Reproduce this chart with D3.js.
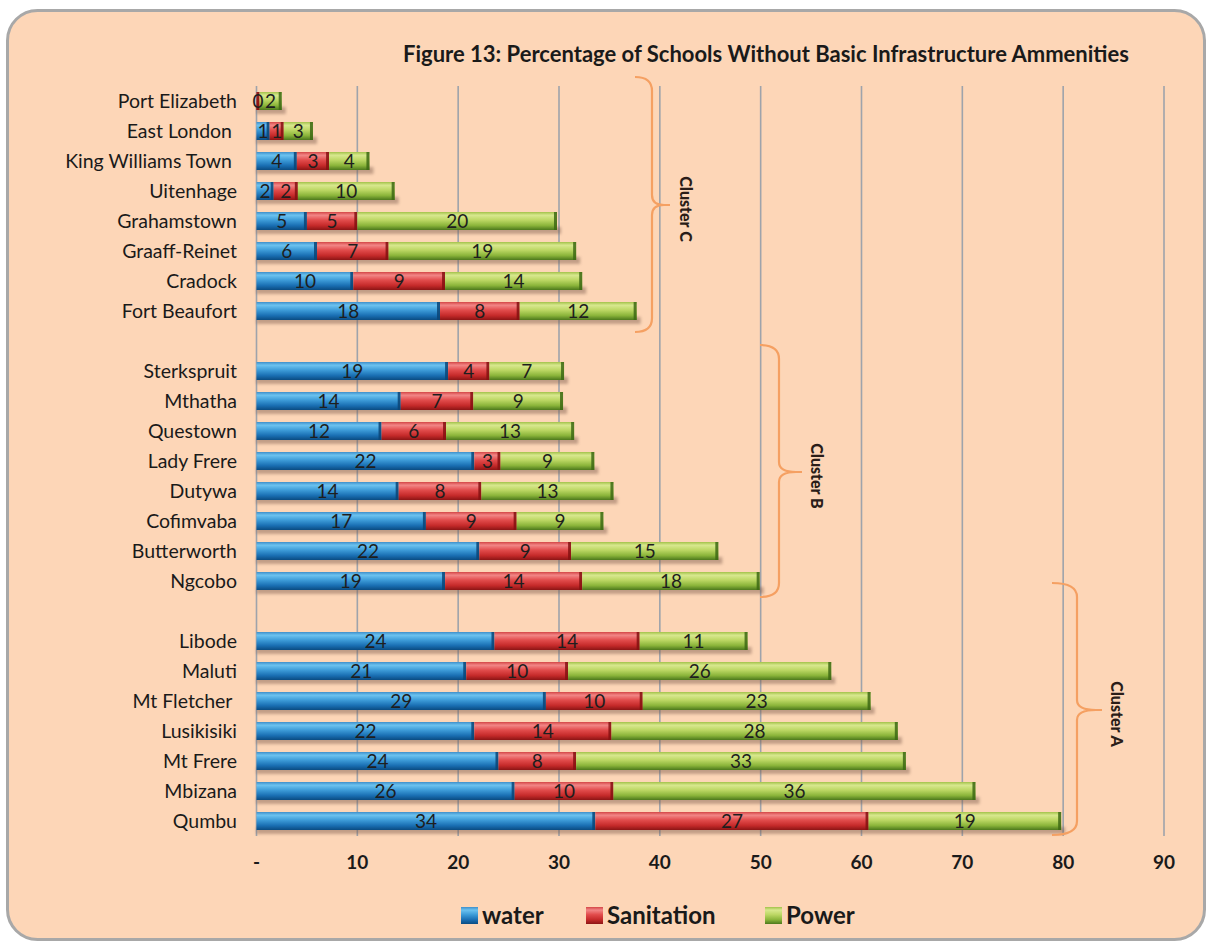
<!DOCTYPE html>
<html><head><meta charset="utf-8">
<script src="https://cdn.jsdelivr.net/npm/d3@7"></script>
<style>html,body{margin:0;padding:0;background:#fff;}svg{display:block;}</style>
</head><body>
<script>
// ---- data ----
const categories = ["Port Elizabeth","East London ","King Williams Town ","Uitenhage","Grahamstown","Graaff-Reinet","Cradock","Fort Beaufort","",
  "Sterkspruit","Mthatha","Questown","Lady Frere","Dutywa","Cofimvaba","Butterworth","Ngcobo","",
  "Libode","Maluti","Mt Fletcher ","Lusikisiki","Mt Frere","Mbizana","Qumbu"];
const water      = [0,1.3,4.0,1.7,5.0,6.0,9.6,18.2,null, 19.0,14.3,12.4,21.6,14.1,16.8,22.1,18.7,null, 23.6,20.8,28.7,21.6,24.0,25.6,33.6];
const sanitation = [0.3,1.4,3.2,2.4,5.0,7.1,9.1,7.9,null, 4.1,7.2,6.4,2.6,8.2,9.0,9.1,13.6,null, 14.4,10.1,9.6,13.6,7.7,9.8,27.1];
const power      = [2.2,2.9,4.0,9.6,19.8,18.6,13.6,11.6,null, 7.4,8.9,12.7,9.3,13.1,8.6,14.6,17.6,null, 10.7,26.1,22.6,28.4,32.7,35.9,19.1];
const seriesNames = ["water","Sanitation","Power"];
const xTicks = [0,10,20,30,40,50,60,70,80,90];
const xTickLabels = ["-","10","20","30","40","50","60","70","80","90"];
const title = "Figure 13: Percentage of Schools Without Basic Infrastructure Ammenities";
const clusters = [
  {name:"Cluster C", from:0, to:7},
  {name:"Cluster B", from:9, to:16},
  {name:"Cluster A", from:18, to:24}
];

// ---- layout ----
const W = 1208, H = 944;
const svg = d3.select("body").append("svg").attr("width", W).attr("height", H);
const FONT = "Lato, 'Open Sans', sans-serif";

svg.append("rect").attr("x",7.5).attr("y",10.5).attr("width",1197).attr("height",929)
  .attr("rx",30).attr("fill","#fdd6b7").attr("stroke","#a8a8a8").attr("stroke-width",3);

const x = d3.scaleLinear().domain([0,90]).range([256.5,1164]);
const y = d3.scaleBand().domain(d3.range(categories.length)).range([86,836]).paddingInner(0.4).paddingOuter(0.2);

const defs = svg.append("defs");
const grads = {
  water: [["0%","#3f8fca"],["18%","#6cc2ef"],["45%","#3d9cd8"],["75%","#1a6fb3"],["100%","#0a4c82"]],
  Sanitation: [["0%","#d44646"],["18%","#f28686"],["45%","#e24c4c"],["75%","#c52a2a"],["100%","#8c1515"]],
  Power: [["0%","#a2c24a"],["18%","#d8e88e"],["45%","#bcd764"],["75%","#8ab43a"],["100%","#4c781c"]]
};
const capColor = {water:"#0a4577", Sanitation:"#851010", Power:"#3d6814"};
Object.entries(grads).forEach(([k,stops],i)=>{
  const g = defs.append("linearGradient").attr("id","g"+i).attr("x1",0).attr("y1",0).attr("x2",0).attr("y2",1);
  stops.forEach(s=>g.append("stop").attr("offset",s[0]).attr("stop-color",s[1]));
});
const blur = defs.append("filter").attr("id","blur").attr("x","-5%").attr("y","-50%").attr("width","110%").attr("height","200%");
blur.append("feGaussianBlur").attr("stdDeviation",1.6);

// gridlines
svg.append("g").selectAll("line").data(xTicks).join("line")
  .attr("x1",d=>x(d)).attr("x2",d=>x(d)).attr("y1",86).attr("y2",836)
  .attr("stroke","#9ea3ab").attr("stroke-width",1.6);

// tick labels
svg.append("g").selectAll("text").data(xTicks).join("text")
  .attr("x",d=>x(d)).attr("y",869).attr("text-anchor","middle")
  .attr("font-family",FONT).attr("font-weight","bold").attr("font-size",19).attr("fill","#1a1a1a")
  .text((d,i)=>xTickLabels[i]);

// category labels
svg.append("g").selectAll("text").data(categories).join("text")
  .attr("x",237).attr("y",(d,i)=>y(i)+y.bandwidth()/2+6.5).attr("text-anchor","end")
  .attr("font-family",FONT).attr("font-size",19.5).attr("fill","#1a1a1a")
  .style("white-space","pre").text(d=>d);

// stacked segments
const rows = categories.map((c,i)=>({i, vals:[water[i],sanitation[i],power[i]]})).filter(r=>r.vals[0]!==null);
const segs = [];
rows.forEach(r=>{
  let acc=0;
  r.vals.forEach((v,s)=>{ segs.push({i:r.i, s, v, x0:acc, x1:acc+v}); acc+=v; });
});
const bh = y.bandwidth();
// shadows
svg.append("g").selectAll("rect").data(rows).join("rect")
  .attr("x",x(0)).attr("y",r=>y(r.i)+bh-3)
  .attr("width",r=>x(d3.sum(r.vals))-x(0)+4).attr("height",7)
  .attr("fill","#7a5a4c").attr("opacity",0.45).attr("filter","url(#blur)");
const segG = svg.append("g");
segs.filter(d=>d.v>0).forEach(d=>{
  const key = seriesNames[d.s];
  const x0 = x(d.x0), x1 = x(d.x1), yy = y(d.i);
  segG.append("rect").attr("x",x0).attr("y",yy).attr("width",Math.max(0,x1-x0)).attr("height",bh)
    .attr("fill",`url(#g${d.s})`);
  const cw = Math.min(3, x1-x0);
  segG.append("rect").attr("x",x1-cw).attr("y",yy).attr("width",cw).attr("height",bh)
    .attr("fill",capColor[key]).attr("opacity",0.85);
});
// labels
svg.append("g").selectAll("text").data(segs.filter(d=>d.v>0)).join("text")
  .attr("x",d=>(x(d.x0)+x(d.x1))/2).attr("y",d=>y(d.i)+bh/2+6.5)
  .attr("text-anchor","middle").attr("font-family",FONT).attr("font-size",19).attr("fill","#1e1e1e")
  .text(d=>Math.round(d.v));

// title
svg.append("text").attr("x",766).attr("y",62).attr("text-anchor","middle")
  .attr("font-family",FONT).attr("font-weight","bold").attr("font-size",22).attr("fill","#1a1a1a").text(title);

// cluster braces
const braceGeom = [
  {top:77, bot:332, vx:652, tipY:205, tipX:670, endX:635, lx:686},
  {top:345, bot:597, vx:779, tipY:472, tipX:802, endX:760, lx:817},
  {top:583, bot:835, vx:1077, tipY:710, tipX:1102, endX:1052, lx:1117}
];
clusters.forEach((c,k)=>{
  const b = braceGeom[k];
  const r = 14;
  const p = d3.path();
  p.moveTo(b.endX,b.top);
  p.quadraticCurveTo(b.vx,b.top, b.vx,b.top+r);
  p.lineTo(b.vx,b.tipY-10);
  p.quadraticCurveTo(b.vx,b.tipY, b.tipX-6,b.tipY);
  p.lineTo(b.tipX,b.tipY);
  p.moveTo(b.tipX-6,b.tipY);
  p.quadraticCurveTo(b.vx,b.tipY, b.vx,b.tipY+10);
  p.lineTo(b.vx,b.bot-r);
  p.quadraticCurveTo(b.vx,b.bot, b.endX,b.bot);
  svg.append("path").attr("d",p.toString()).attr("fill","none").attr("stroke","#f5a062").attr("stroke-width",2.2);
  svg.append("text").attr("transform",`translate(${b.lx},${b.tipY+4}) rotate(90)`)
    .attr("text-anchor","middle").attr("dy","0.35em").attr("font-family",FONT).attr("font-weight","900")
    .attr("font-size",16).attr("fill","#2a1d18").text(c.name);
});

// legend
const legX = [461, 586, 765];
const lg = svg.append("g");
seriesNames.forEach((n,i)=>{
  lg.append("rect").attr("x",legX[i]).attr("y",907).attr("width",17).attr("height",17).attr("fill",`url(#g${i})`);
  lg.append("text").attr("x",legX[i]+21).attr("y",924).attr("font-family",FONT).attr("font-weight","bold")
    .attr("font-size",24).attr("fill","#1a1a1a").text(n);
});
</script>
</body></html>
